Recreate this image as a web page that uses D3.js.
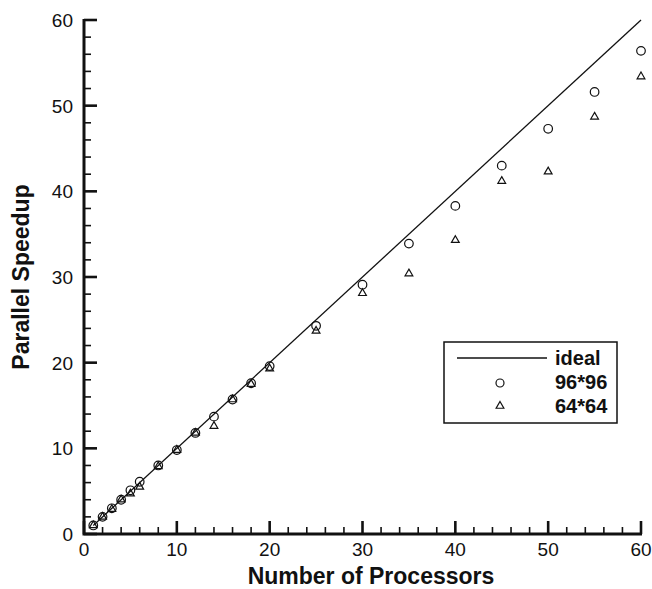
<!DOCTYPE html>
<html><head><meta charset="utf-8">
<script src="https://cdn.jsdelivr.net/npm/d3@7"></script>
<style>body{margin:0;background:#fff}svg{display:block}</style>
</head><body>
<script>
const procs = [1,2,3,4,5,6,8,10,12,14,16,18,20,25,30,35,40,45,50,55,60];
const speedup96 = [1,2,3,4,5.1,6.1,8,9.8,11.8,13.7,15.7,17.6,19.6,24.3,29.1,33.9,38.3,43.0,47.3,51.6,56.4];
const speedup64 = [1,2,2.9,4,4.7,5.5,7.9,9.8,11.8,12.6,15.7,17.5,19.3,23.7,28.1,30.4,34.3,41.2,42.3,48.7,53.4];
const idealX = [1,60];
const xTicks = [0,10,20,30,40,50,60];
const yTicks = [0,10,20,30,40,50,60];
const legendLabels = ["ideal","96*96","64*64"];

const W=652,H=589;
const svg=d3.select("body").append("svg").attr("width",W).attr("height",H);
const x=d3.scaleLinear().domain([0,60]).range([84,641]);
const y=d3.scaleLinear().domain([0,60]).range([534,20]);
const font="'Liberation Sans', Arial, sans-serif";

// minor ticks
const minor=d3.range(0,61,2).filter(v=>v%10!==0);
const g=svg.append("g");
g.selectAll(".mx").data(minor).join("line").attr("x1",d=>x(d)).attr("x2",d=>x(d)).attr("y1",y(0)).attr("y2",y(0)-7).attr("stroke","#111").attr("stroke-width",1.6);
g.selectAll(".my").data(minor).join("line").attr("y1",d=>y(d)).attr("y2",d=>y(d)).attr("x1",x(0)).attr("x2",x(0)+7).attr("stroke","#111").attr("stroke-width",1.6);
g.selectAll(".Mx").data(xTicks).join("line").attr("x1",d=>x(d)).attr("x2",d=>x(d)).attr("y1",y(0)).attr("y2",y(0)-13).attr("stroke","#111").attr("stroke-width",2.6);
g.selectAll(".My").data(yTicks).join("line").attr("y1",d=>y(d)).attr("y2",d=>y(d)).attr("x1",x(0)).attr("x2",x(0)+13).attr("stroke","#111").attr("stroke-width",2.6);
// axis lines
svg.append("path").attr("d",`M${x(0)},${y(60)-1}V${y(0)}H${x(60)+1}`).attr("fill","none").attr("stroke","#111").attr("stroke-width",3);

// tick labels
svg.selectAll(".xl").data(xTicks).join("text").attr("x",d=>x(d)).attr("y",y(0)+22).attr("text-anchor","middle")
 .attr("font-family",font).attr("font-size",19).attr("fill","#111").text(d=>d);
svg.selectAll(".yl").data(yTicks).join("text").attr("x",x(0)-11).attr("y",d=>y(d)+7).attr("text-anchor","end")
 .attr("font-family",font).attr("font-size",19).attr("fill","#111").text(d=>d);

// axis titles
svg.append("text").attr("x",371).attr("y",584).attr("text-anchor","middle").attr("font-family",font).attr("font-weight","bold").attr("font-size",23).attr("fill","#111").text("Number of Processors");
svg.append("text").attr("transform",`translate(29,${y(30)}) rotate(-90)`).attr("text-anchor","middle").attr("font-family",font).attr("font-weight","bold").attr("font-size",23).attr("fill","#111").text("Parallel Speedup");

// ideal line
svg.append("line").attr("x1",x(idealX[0])).attr("y1",y(idealX[0])).attr("x2",x(idealX[1])).attr("y2",y(idealX[1])).attr("stroke","#111").attr("stroke-width",1.3);

const tri=d3.symbol().type(d3.symbolTriangle).size(26);
// markers
svg.selectAll(".c96").data(procs).join("circle").attr("cx",d=>x(d)).attr("cy",(d,i)=>y(speedup96[i])).attr("r",4.3)
 .attr("fill","none").attr("stroke","#111").attr("stroke-width",1.2);
svg.selectAll(".t64").data(procs).join("path").attr("d",tri).attr("transform",(d,i)=>`translate(${x(d)},${y(speedup64[i])})`)
 .attr("fill","none").attr("stroke","#111").attr("stroke-width",1.2);

// legend
const lg=svg.append("g");
lg.append("rect").attr("x",444).attr("y",342).attr("width",173).attr("height",81).attr("fill","#fff").attr("stroke","#111").attr("stroke-width",1.5);
lg.append("line").attr("x1",457).attr("x2",547).attr("y1",358).attr("y2",358).attr("stroke","#111").attr("stroke-width",1.3);
lg.append("circle").attr("cx",500).attr("cy",383).attr("r",4).attr("fill","none").attr("stroke","#111").attr("stroke-width",1.2);
lg.append("path").attr("d",tri).attr("transform","translate(500,406)").attr("fill","none").attr("stroke","#111").attr("stroke-width",1.2);
lg.selectAll("text").data(legendLabels).join("text").attr("x",555).attr("y",(d,i)=>365+i*24)
 .attr("font-family",font).attr("font-weight","bold").attr("font-size",20).attr("fill","#111").text(d=>d);
</script>
</body></html>
